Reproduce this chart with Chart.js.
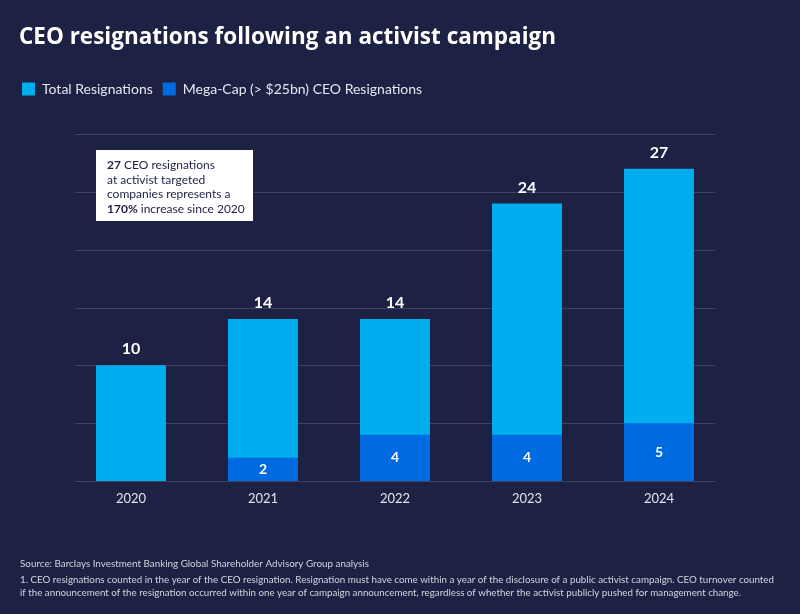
<!DOCTYPE html>
<html>
<head>
<meta charset="utf-8">
<script src="https://cdn.jsdelivr.net/npm/chart.js@4/dist/chart.umd.min.js"></script>
<style>
  html, body { margin: 0; padding: 0; background: #1d2143; }
  #wrap { width: 800px; height: 614px; }
</style>
</head>
<body>
<div id="wrap"><canvas id="chart" width="800" height="614"></canvas></div>
<script>
var years = ["2020", "2021", "2022", "2023", "2024"];
var totalResignations = [10, 14, 14, 24, 27];
var megaCapResignations = [0, 2, 4, 4, 5];
var seriesNames = ["Total Resignations", "Mega-Cap (> $25bn) CEO Resignations"];

var titleText = "CEO resignations following an activist campaign";
var noteLines = [
  [["27", true], [" CEO resignations", false]],
  [["at activist targeted", false]],
  [["companies represents a", false]],
  [["170%", true], [" increase since 2020", false]]
];
var footerLines = [
  "Source: Barclays Investment Banking Global Shareholder Advisory Group analysis",
  "1. CEO resignations counted in the year of the CEO resignation. Resignation must have come within a year of the disclosure of a public activist campaign. CEO turnover counted",
  "if the announcement of the resignation occurred within one year of campaign announcement, regardless of whether the activist publicly pushed for management change."
];

var FONT = "Lato, 'Open Sans', sans-serif";
var lightBlue = "#00aeef";
var darkBlue = "#006be0";

// legend spacing hack
var legendMargin = {
  id: "legendMargin",
  beforeInit: function(chart) {
    var fit = chart.legend.fit;
    chart.legend.fit = function() {
      fit.bind(chart.legend)();
      this.height += 28;
    };
  }
};

// shorter horizontal grid lines
var gridLines = {
  id: "gridLines",
  beforeDatasetsDraw: function(chart) {
    var ctx = chart.ctx, area = chart.chartArea, y = chart.scales.y;
    ctx.save();
    ctx.strokeStyle = "#3d4263";
    ctx.lineWidth = 1;
    y.ticks.forEach(function(t) {
      if (t.value % 5 !== 0) return;
      var py = Math.round(y.getPixelForValue(t.value)) + 0.5;
      ctx.beginPath();
      ctx.moveTo(area.left + 10, py);
      ctx.lineTo(area.right - 10, py);
      ctx.stroke();
    });
    ctx.restore();
  }
};

var extras = {
  id: "extras",
  afterDatasetsDraw: function(chart) {
    var ctx = chart.ctx;
    ctx.save();
    ctx.textAlign = "center";
    ctx.textBaseline = "middle";
    ctx.fillStyle = "#ffffff";

    // totals above bars
    ctx.font = "bold 16px " + FONT;
    chart.getDatasetMeta(0).data.forEach(function(bar, i) {
      ctx.fillText(totalResignations[i], bar.x, bar.y - 16);
    });
    // mega-cap inside
    ctx.font = "bold 14px " + FONT;
    chart.getDatasetMeta(1).data.forEach(function(bar, i) {
      if (!megaCapResignations[i]) return;
      ctx.fillText(megaCapResignations[i], bar.x, (bar.y + bar.base) / 2);
    });

    // note box
    ctx.fillStyle = "#ffffff";
    ctx.fillRect(96, 150, 157, 71);
    ctx.textAlign = "left";
    ctx.fillStyle = "#1d2143";
    noteLines.forEach(function(parts, li) {
      var x = 107;
      parts.forEach(function(p) {
        ctx.font = (p[1] ? "bold " : "") + "12px " + FONT;
        ctx.fillText(p[0], x, 165 + li * 14.8);
        x += ctx.measureText(p[0]).width;
      });
    });
    ctx.restore();
  },
  afterDraw: function(chart) {
    var ctx = chart.ctx;
    ctx.save();
    ctx.textAlign = "left";
    ctx.textBaseline = "middle";
    ctx.fillStyle = "#ffffff";
    ctx.font = "bold 22.5px 'Open Sans', sans-serif";
    ctx.fillText(titleText, 19, 38, 537);

    ctx.fillStyle = "#d3d5df";
    ctx.font = "10px " + FONT;
    var widths = [349, 754, 721];
    var ys = [564, 580, 593];
    footerLines.forEach(function(t, i) {
      ctx.fillText(t, 20, ys[i], widths[i]);
    });
    ctx.restore();
  }
};

var config = {
  type: "bar",
  data: {
    labels: years,
    datasets: [
      {
        label: seriesNames[0],
        data: totalResignations,
        backgroundColor: lightBlue,
        borderWidth: 0,
        order: 1
      },
      {
        label: seriesNames[1],
        data: megaCapResignations,
        backgroundColor: darkBlue,
        borderWidth: 0,
        order: 0
      }
    ]
  },
  options: {
    responsive: false,
    animation: false,
    devicePixelRatio: 1,
    categoryPercentage: 1,
    barPercentage: 0.53,
    layout: { padding: { left: 12, right: 75, top: 72, bottom: 103 } },
    plugins: {
      tooltip: { enabled: false },
      title: { display: false },
      legend: {
        position: "top",
        align: "start",
        labels: {
          boxWidth: 13,
          boxHeight: 13,
          padding: 10,
          color: "#e6e7ee",
          font: { family: FONT, size: 14 },
          sort: function(a, b) { return a.datasetIndex - b.datasetIndex; }
        }
      }
    },
    scales: {
      x: {
        stacked: true,
        grid: { display: false, drawTicks: false },
        border: { display: false },
        ticks: { color: "#e3e5ee", font: { family: FONT, size: 13 }, padding: 10 },
        afterFit: function(scale) { scale.height = 30; }
      },
      y: {
        stacked: false,
        min: 0,
        max: 30,
        ticks: { display: false, stepSize: 5 },
        grid: { display: false },
        border: { display: false },
        afterFit: function(scale) { scale.width = 53; }
      }
    }
  },
  plugins: [legendMargin, gridLines, extras]
};

new Chart(document.getElementById("chart"), config);
</script>
</body>
</html>
